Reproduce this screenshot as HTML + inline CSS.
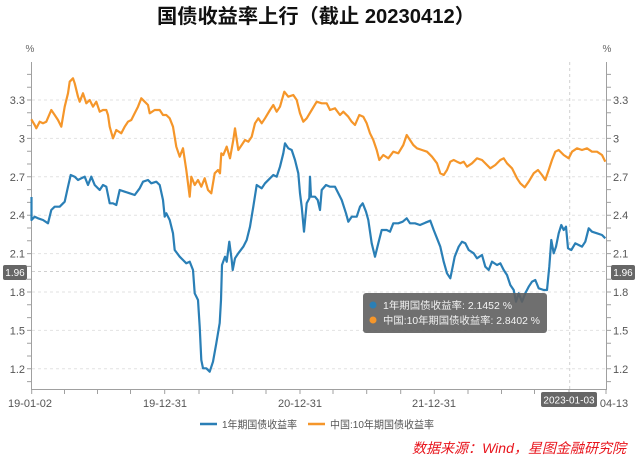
<!DOCTYPE html>
<html><head><meta charset="utf-8"><style>
html,body{margin:0;padding:0;background:#fff;}
svg{display:block;}
text{font-family:"Liberation Sans","Noto Sans CJK SC",sans-serif;}
</style></head><body>
<svg width="640" height="462" viewBox="0 0 640 462" xmlns="http://www.w3.org/2000/svg">
<rect width="640" height="462" fill="#fff"/>
<text x="316" y="23" text-anchor="middle" font-size="20" font-weight="bold" fill="#111" textLength="318" lengthAdjust="spacingAndGlyphs">国债收益率上行（截止 20230412）</text>

<!-- grid -->
<g stroke="#e2e2e2" stroke-width="1" stroke-dasharray="3,3">
<line x1="32" y1="100" x2="606" y2="100"/>
<line x1="32" y1="138.4" x2="606" y2="138.4"/>
<line x1="32" y1="176.8" x2="606" y2="176.8"/>
<line x1="32" y1="215.2" x2="606" y2="215.2"/>
<line x1="32" y1="253.6" x2="606" y2="253.6"/>
<line x1="32" y1="292" x2="606" y2="292"/>
<line x1="32" y1="330.4" x2="606" y2="330.4"/>
<line x1="32" y1="368.8" x2="606" y2="368.8"/>
</g>
<line x1="32" y1="271.5" x2="606" y2="271.5" stroke="#d0d0d0" stroke-dasharray="3,3"/>
<line x1="569.7" y1="62" x2="569.7" y2="389" stroke="#d0d0d0" stroke-dasharray="3,3"/>

<!-- axes -->
<g stroke="#a0a0a0" stroke-width="1">
<line x1="31.5" y1="62" x2="31.5" y2="390"/>
<line x1="606.5" y1="62" x2="606.5" y2="390"/>
<line x1="31.5" y1="389.5" x2="606.5" y2="389.5"/>
</g>
<g stroke="#a0a0a0" stroke-width="1">
<path d="M27 74.4H31.5M27 87.2H31.5M27 100H31.5M27 112.8H31.5M27 125.6H31.5M27 138.4H31.5M27 151.2H31.5M27 164H31.5M27 176.8H31.5M27 189.6H31.5M27 202.4H31.5M27 215.2H31.5M27 228H31.5M27 240.8H31.5M27 253.6H31.5M27 266.4H31.5M27 279.2H31.5M27 292H31.5M27 304.8H31.5M27 317.6H31.5M27 330.4H31.5M27 343.2H31.5M27 356H31.5M27 368.8H31.5M27 381.6H31.5"/>
<path d="M606.5 74.4H611M606.5 87.2H611M606.5 100H611M606.5 112.8H611M606.5 125.6H611M606.5 138.4H611M606.5 151.2H611M606.5 164H611M606.5 176.8H611M606.5 189.6H611M606.5 202.4H611M606.5 215.2H611M606.5 228H611M606.5 240.8H611M606.5 253.6H611M606.5 266.4H611M606.5 279.2H611M606.5 292H611M606.5 304.8H611M606.5 317.6H611M606.5 330.4H611M606.5 343.2H611M606.5 356H611M606.5 368.8H611M606.5 381.6H611"/>
<path d="M31.7 389V394M64.5 389V394M97.5 389V394M130.5 389V394M164.7 389V394M199 389V394M232.7 389V394M266 389V394M300 389V394M333 389V394M366.7 389V394M400.7 389V394M434.3 389V394M468 389V394M501.5 389V394M534.5 389V394M569 389V394M606 389V394"/>
</g>

<!-- y labels -->
<g font-size="11" fill="#555" text-anchor="end">
<text x="25" y="104">3.3</text>
<text x="25" y="142.4">3</text>
<text x="25" y="180.8">2.7</text>
<text x="25" y="219.2">2.4</text>
<text x="25" y="257.6">2.1</text>
<text x="25" y="296">1.8</text>
<text x="25" y="334.4">1.5</text>
<text x="25" y="372.8">1.2</text>
</g>
<g font-size="11" fill="#555" text-anchor="start">
<text x="613" y="104">3.3</text>
<text x="613" y="142.4">3</text>
<text x="613" y="180.8">2.7</text>
<text x="613" y="219.2">2.4</text>
<text x="613" y="257.6">2.1</text>
<text x="613" y="296">1.8</text>
<text x="613" y="334.4">1.5</text>
<text x="613" y="372.8">1.2</text>
</g>
<text x="30" y="52" font-size="10" fill="#666" text-anchor="middle">%</text>
<text x="607" y="52" font-size="10" fill="#666" text-anchor="middle">%</text>

<!-- x labels -->
<g font-size="11" fill="#555" text-anchor="middle">
<text x="30" y="407">19-01-02</text>
<text x="165" y="407">19-12-31</text>
<text x="300" y="407">20-12-31</text>
<text x="434" y="407">21-12-31</text>
<text x="614" y="407">04-13</text>
</g>

<!-- series -->
<polyline fill="none" stroke="#f5962a" stroke-width="2.2" stroke-linejoin="round" points="31.3,119.3 34.7,125 36.3,128.3 39.7,121.7 43,123.3 46.3,121.7 51.3,110 54.7,115 58,120 61.3,126.7 64.7,106.7 68,93.3 69.7,81.7 73,78.3 74.7,83.3 78,96.7 79.7,101.7 83,93.3 86.3,103.3 89.7,100 93,106.7 96.3,101.7 99.7,111.7 103,110 106.3,110 108,115 109.7,126.7 113,138.3 116.3,130 121.3,133.3 124.7,126.7 128,121.7 131.3,120 134.7,113.3 138,106.7 141.3,98.3 144.7,101.7 148,105 149.7,113.3 154.7,110 159.7,110 163,115 166.3,115 169.7,118.3 173,126.7 176.3,146.7 179.7,156.7 183,148.3 186.3,170 189.7,196.7 191.3,176.7 194.7,185 198,180 201.3,186.7 204.7,178.3 208,190 211.3,193.3 214.7,173.3 218,170 220,173.3 221.3,153.3 223.3,155 226.7,146.7 230,158.3 233.3,140 235,128.3 238.3,150 241.7,145 245,140 248.3,141.7 251.7,136.7 255,123.3 258.3,118.3 261.7,123.3 265,118.3 270,110 273.3,105 276.7,111.7 280,106.7 284.3,91.7 288.3,96.7 293.3,95 296.7,100 300,113.3 303.3,121.7 306.7,118.3 311.7,110 316.7,101.7 321.7,103.3 326.7,103.3 330,110 335,108.3 340,115 343.3,111.7 348.3,116.7 351.7,121.7 355,125 359.3,115 363.3,116.7 366.7,123.3 370,133.3 373.3,140 376.7,150 379.3,160 383.3,155 388.3,158.3 393.3,151.7 398.3,153.3 403.3,145 406.7,135 410,140 413.3,145 417,148.3 422,150 427,151.7 432,156.7 437,163.3 440.3,173.3 443.7,175 447,170 450.3,161.7 453.7,160 457,161.7 460.3,163.3 463.7,161.7 467,166.7 472,163.3 477,158.3 482,160 487,165 490.3,168.3 495.3,165 500.3,160 503.7,158.3 507,163.3 512,168.3 517,178.3 520.3,183.3 524.7,187.3 528.7,181.7 533.7,173.3 538,170 542,175 545.3,180 548.7,170 552,160 555.3,151.7 558.7,150 563.7,155 568.7,158.3 572,151.7 577,148.3 582,150 587,148.3 592,151.7 597,151.7 602,155 605.3,161.7"/>
<polyline fill="none" stroke="#2a7fb6" stroke-width="2.2" stroke-linejoin="round" points="31.5,197 31.5,220 34.7,216.7 38,218.3 43,220 48,223.3 51.3,210 54.7,206.7 59.7,206.7 64.7,201.7 68,186.7 70.7,175 74.7,176.7 78,180 81.3,178.3 84.7,176.7 88,185 91.3,176.7 94.7,185 99.7,190 103,185 106.3,186.7 109.7,203.3 113,203.3 116.3,205 119.7,190 124.7,191.7 129.7,193.3 134.7,195 139.7,188.3 143,181.7 148,180 151.3,183.3 156.3,181.7 159.7,185 163,200 164.7,216.7 166.3,213.3 169.7,220 173,233.3 174.7,250 179.7,256.7 183,260 186.3,263.3 189.7,261.7 193,270 194.7,293.3 198,300 199.7,326.7 201.3,360 203,368.3 206.3,368.3 209.7,371.7 213,361.7 216.3,343.3 219.7,323 221,300 222,265 225,256.7 226.7,261.7 229.3,241.7 231.7,260 232.7,270 235,258.3 238.3,253.3 243.3,246.7 246.7,240 250,226.7 253.3,206.7 256.7,185 261.7,188.3 265,183.3 270,178.3 273.3,175 276.7,176.7 280,166.7 283.3,153.3 285,143.3 288.3,148.3 291.7,150 295,160 298.3,173.3 300,193.3 301.7,206.7 304,231.7 306.7,203.3 309.3,198.3 310,176.7 311,196.7 315,196.7 317.7,200 320,210 321.7,190 326,185 330,186.7 335,186.7 338.3,193.3 341.7,200 346,213.3 348.3,221.7 351.7,216.7 356.7,216.7 360,206.7 362.7,203.3 366,211.7 368.3,220 371.7,243.3 375,256.7 378.3,243.3 381.7,230 386.7,230 390,231.7 393.3,223.3 398.3,223.3 402.7,221.7 406.7,218.3 410,223.3 415,223.3 420,225 425.3,222.7 430.3,220.7 433.7,230 437,238.3 440.3,246.7 443.7,261.7 447,273.3 450.3,278.3 452.7,266.7 454.7,256.7 458.7,246.7 462,241.7 465.3,243.3 468.7,250 473.7,253.3 477,258.3 482,255 485.3,266.7 488.7,270 492,261.7 497,265 500.3,263.3 503.7,270 507,275 510.3,285 513.7,290 516,301.7 518.7,293.3 522,301.7 525.3,293.3 528.7,286.7 532,281.7 535.3,280 538.7,288.3 543.7,290 547,290 549.3,266.7 551.3,240 553.7,253.3 556,246.7 558.7,233.3 561.3,225 563.7,230 566,226.7 568,248.3 571.3,250 575.3,243.3 578.7,245 582,246.7 585.3,241.7 588.7,228.3 592,231.7 597,233.3 602,235 605.3,238.3"/>

<!-- crosshair labels -->
<rect x="3" y="265" width="24" height="15" rx="2" fill="#666"/>
<text x="15" y="276" font-size="10" fill="#fff" text-anchor="middle">1.96</text>
<rect x="611" y="265" width="24" height="15" rx="2" fill="#666"/>
<text x="623" y="276" font-size="10" fill="#fff" text-anchor="middle">1.96</text>
<rect x="541" y="392" width="56" height="15" rx="2" fill="#666"/>
<text x="569" y="403.5" font-size="10" fill="#fff" text-anchor="middle">2023-01-03</text>

<!-- tooltip -->
<rect x="363" y="293" width="184" height="40" rx="3" fill="#5f5f5f" fill-opacity="0.9"/>
<circle cx="373" cy="305" r="3.5" fill="#2a7fb6"/>
<circle cx="373" cy="320" r="3.5" fill="#f5962a"/>
<text x="383" y="309" font-size="10" fill="#f2f2f2" textLength="129" lengthAdjust="spacingAndGlyphs">1年期国债收益率: 2.1452  %</text>
<text x="383" y="324" font-size="10" fill="#f2f2f2" textLength="157" lengthAdjust="spacingAndGlyphs">中国:10年期国债收益率: 2.8402  %</text>

<!-- legend -->
<line x1="200" y1="424" x2="217" y2="424" stroke="#2a7fb6" stroke-width="2.5"/>
<text x="222" y="428" font-size="10.5" fill="#555" textLength="75" lengthAdjust="spacingAndGlyphs">1年期国债收益率</text>
<line x1="308" y1="424" x2="325" y2="424" stroke="#f5962a" stroke-width="2.5"/>
<text x="330" y="428" font-size="10.5" fill="#555" textLength="104" lengthAdjust="spacingAndGlyphs">中国:10年期国债收益率</text>

<!-- source -->
<text x="412" y="453" font-size="14" fill="#e8141c" font-style="italic" textLength="214" lengthAdjust="spacingAndGlyphs">数据来源：Wind，星图金融研究院</text>
</svg>
</body></html>
